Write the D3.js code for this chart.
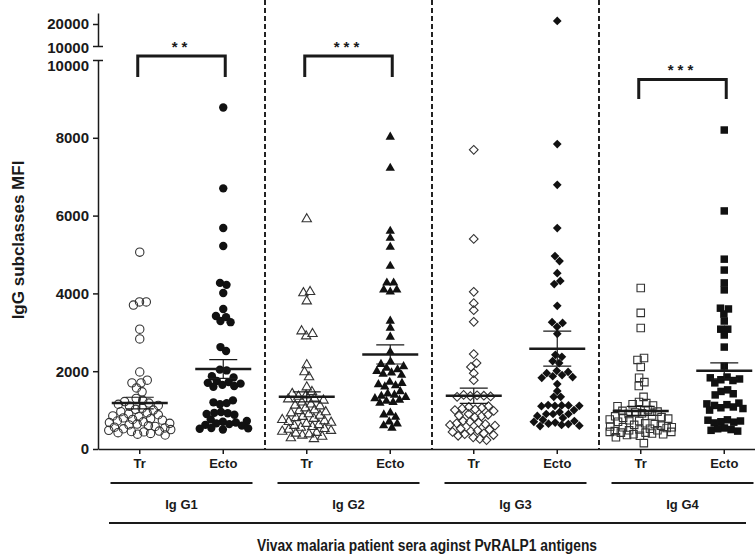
<!DOCTYPE html>
<html>
<head>
<meta charset="utf-8">
<script src="https://cdn.jsdelivr.net/npm/d3@7"></script>
<style>
  body { margin: 0; background: #fff; }
  text { font-family: "Liberation Sans", Arial, sans-serif; fill: #1a1a1a; font-weight: bold; }
</style>
</head>
<body>
<svg width="755" height="556"></svg>
<script>
var groups = ["Ig G1", "Ig G2", "Ig G3", "Ig G4"];
var conditions = ["Tr", "Ecto"];

// MFI values, one array per column
var g1Tr = [5060, 3780, 3700, 3780, 3080, 2830, 1980, 1770, 1700, 1700, 1570, 1470, 1300, 1250, 1220, 1180, 1150, 1120, 1100, 1050, 1020, 1000, 960, 930, 900, 880, 850, 830, 800, 780, 760, 740, 720, 700, 680, 660, 640, 620, 600, 580, 560, 540, 520, 500, 480, 460, 450, 440, 420, 400, 380, 360];
var g1Ecto = [8780, 6700, 5680, 5220, 4270, 4220, 4010, 3600, 3420, 3390, 3290, 3260, 2620, 2520, 2040, 2020, 1870, 1840, 1750, 1720, 1700, 1680, 1650, 1620, 1600, 1250, 1200, 1180, 1150, 950, 930, 920, 900, 880, 760, 720, 700, 680, 660, 640, 620, 600, 540, 530, 520, 500];
var g2Tr = [5910, 4040, 4010, 3800, 3030, 2960, 2900, 2160, 1980, 1850, 1590, 1470, 1420, 1380, 1350, 1300, 1280, 1250, 1200, 1150, 1120, 1100, 1050, 1000, 980, 950, 920, 900, 860, 830, 800, 780, 750, 720, 700, 680, 650, 620, 600, 570, 550, 520, 500, 470, 450, 420, 400, 380, 350, 320, 280, 260];
var g2Ecto = [8020, 7220, 5600, 5420, 5190, 4700, 4270, 4270, 4090, 4090, 4040, 3290, 3110, 2880, 2490, 2240, 2180, 2120, 2080, 2040, 2000, 1960, 1930, 1900, 1720, 1690, 1660, 1630, 1600, 1480, 1420, 1390, 1360, 1330, 1300, 1260, 1230, 1200, 1180, 930, 880, 820, 700, 650, 600, 540];
var g3Tr = [7690, 5400, 4040, 3750, 3570, 3270, 2440, 2210, 2110, 1950, 1770, 1390, 1380, 1370, 1360, 1350, 1340, 1100, 1080, 1060, 1040, 1020, 1000, 980, 900, 880, 860, 840, 820, 720, 700, 680, 660, 640, 620, 600, 520, 500, 480, 460, 440, 400, 380, 360, 340, 300, 260, 230];
var g3Ecto = [21400, 7840, 6790, 5680, 4960, 4830, 4520, 4320, 4240, 3680, 3260, 3240, 3140, 2960, 2420, 2370, 2260, 2210, 2010, 1980, 1950, 1900, 1870, 1850, 1830, 1670, 1490, 1340, 1340, 1130, 1120, 1120, 1110, 1110, 1100, 1000, 950, 900, 900, 900, 850, 800, 750, 720, 700, 680, 650, 640, 620, 600, 590];
var g4Tr = [4140, 3500, 3110, 2340, 2290, 2110, 1830, 1720, 1620, 1340, 1210, 1180, 1150, 1120, 1100, 1000, 980, 960, 940, 920, 900, 860, 840, 820, 800, 780, 760, 740, 720, 700, 660, 640, 620, 600, 580, 560, 560, 540, 520, 500, 480, 480, 460, 440, 440, 420, 420, 400, 380, 380, 360, 340, 300, 150];
var g4Ecto = [8200, 6120, 4880, 4600, 4270, 4090, 3620, 3600, 3470, 3290, 3080, 3080, 2930, 2620, 2130, 1850, 1830, 1800, 1780, 1760, 1700, 1520, 1480, 1420, 1390, 1180, 1160, 1140, 1120, 1080, 1060, 1040, 1000, 750, 740, 720, 700, 690, 670, 540, 520, 500, 480, 460];

// mean and SEM per column (Tr, Ecto for G1..G4)
var means = [1180, 2056, 1340, 2430, 1370, 2580, 980, 2010];
var sems = [150, 240, 130, 245, 195, 450, 115, 205];

// significance per group: label, bracket top and bottom (MFI)
var sigLabels = ["**", "***", "", "***"];
var sigTop = [10100, 10100, null, 9500];
var sigBottom = [9560, 9560, null, 9000];

var yTicksLow = [0, 2000, 4000, 6000, 8000, 10000];
var yTicksHigh = [10000, 20000];

var columnValues = [g1Tr, g1Ecto, g2Tr, g2Ecto, g3Tr, g3Ecto, g4Tr, g4Ecto];
var shapes = [d3.symbolCircle, d3.symbolTriangle, d3.symbolSquare, d3.symbolSquare];
var shapeSizes = [55, 38, 38, 56];

var svg = d3.select('svg');
var ink = '#1a1a1a';

var keys = [];
groups.forEach(function(g) {
	conditions.forEach(function(c) { keys.push(g + '|' + c); });
});

var x = d3.scaleBand().domain(keys).range([98, 766]);
var yLow = d3.scaleLinear().domain([0, 10000]).range([449, 60]);
var yHigh = d3.scaleLinear().domain([10000, 25000]).range([46, 13]);

function yVal(v) {
	return v > 10000 ? yHigh(v) : yLow(v);
}
function cx(i) {
	return x(keys[i]) + x.bandwidth() / 2;
}

// dashed separators between subclasses
svg.append('g').selectAll('line')
	.data([2, 4, 6])
	.enter()
	.append('line')
	.attr('x1', function(d) { return x(keys[d]); })
	.attr('x2', function(d) { return x(keys[d]); })
	.attr('y1', 0)
	.attr('y2', 449)
	.attr('stroke', '#222')
	.attr('stroke-width', 2)
	.attr('stroke-dasharray', '5,3');

// y axes (broken)
var axLow = svg.append('g')
	.attr('transform', 'translate(98,0)')
	.call(d3.axisLeft(yLow).tickValues(yTicksLow).tickFormat(d3.format('d')).tickSize(5).tickSizeOuter(0));
var axHigh = svg.append('g')
	.attr('transform', 'translate(98,0)')
	.call(d3.axisLeft(yHigh).tickValues(yTicksHigh).tickFormat(d3.format('d')).tickSize(5).tickSizeOuter(0));

[axLow, axHigh].forEach(function(ax, ai) {
	ax.select('.domain').attr('stroke', ink).attr('stroke-width', 1.5);
	ax.selectAll('.tick line').attr('stroke', ink).attr('stroke-width', 1.5);
	ax.selectAll('.tick text')
		.attr('fill', ink)
		.style('font-size', '15px')
		.style('font-weight', 'bold')
		.attr('x', -9);
	// break marks at 10000 cross the axis
	ax.selectAll('.tick')
		.filter(function(d) { return d === 10000; })
		.each(function() {
			d3.select(this).select('line').attr('x1', 5).attr('x2', -5);
			d3.select(this).select('text').attr('dy', ai === 0 ? '0.72em' : '0.45em');
		});
});

// x axis
var axX = svg.append('g')
	.attr('transform', 'translate(0,449)')
	.call(d3.axisBottom(x).tickSize(5).tickSizeOuter(0)
		.tickFormat(function(d) { return d.split('|')[1]; }));
axX.select('.domain').attr('stroke', ink).attr('stroke-width', 1.5);
axX.selectAll('.tick line').attr('stroke', ink).attr('stroke-width', 1.5);
axX.selectAll('.tick text')
	.attr('fill', ink)
	.attr('y', 10)
	.style('font-size', '13px')
	.style('font-weight', 'bold');

// points, laid out with a small force beeswarm kept inside the column
columnValues.forEach(function(values, ci) {
	var center = cx(ci);
	var gi = Math.floor(ci / 2);
	var filled = ci % 2 === 1;
	var nodes = values.map(function(v, i) {
		return { value: v, fy: yVal(v), x: center + (i % 2 ? 1 : -1) * (i % 9) };
	});
	var sim = d3.forceSimulation(nodes)
		.force('x', d3.forceX(center).strength(0.12))
		.force('collide', d3.forceCollide(3.4).iterations(2))
		.stop();
	for (var k = 0; k < 300; k++) {
		sim.tick();
		nodes.forEach(function(d) {
			d.x = Math.max(center - 31, Math.min(center + 31, d.x));
		});
	}

	var sym = d3.symbol().type(shapes[gi]).size(shapeSizes[gi]);
	svg.append('g').selectAll('path')
		.data(nodes)
		.enter()
		.append('path')
		.attr('d', sym)
		.attr('transform', function(d) {
			return 'translate(' + d.x + ',' + d.fy + ')' + (gi === 2 ? ' rotate(45)' : '');
		})
		.attr('fill', filled ? '#111' : 'none')
		.attr('stroke', filled ? 'none' : '#333')
		.attr('stroke-width', 1.1);
});

// mean and SEM
var stats = svg.append('g').selectAll('g')
	.data(means)
	.enter()
	.append('g');
stats.append('line')
	.attr('x1', function(d, i) { return cx(i) - 28; })
	.attr('x2', function(d, i) { return cx(i) + 28; })
	.attr('y1', function(d) { return yLow(d); })
	.attr('y2', function(d) { return yLow(d); })
	.attr('stroke', ink)
	.attr('stroke-width', 2.5);
stats.append('path')
	.attr('d', function(d, i) {
		var c = cx(i), t = yLow(d + sems[i]), b = yLow(d - sems[i]);
		return 'M' + (c - 14) + ',' + t + 'H' + (c + 14) + 'M' + c + ',' + t + 'V' + b +
			'M' + (c - 14) + ',' + b + 'H' + (c + 14);
	})
	.attr('fill', 'none')
	.attr('stroke', ink)
	.attr('stroke-width', 1.2);

// significance brackets
groups.forEach(function(g, gi) {
	if (!sigLabels[gi]) return;
	var x1 = cx(gi * 2) - 2, x2 = cx(gi * 2 + 1) + 2;
	var t = yLow(sigTop[gi]), b = yLow(sigBottom[gi]);
	svg.append('path')
		.attr('d', 'M' + x1 + ',' + b + 'V' + t + 'H' + x2 + 'V' + b)
		.attr('fill', 'none')
		.attr('stroke', ink)
		.attr('stroke-width', 3);
	svg.append('text')
		.attr('x', (x1 + x2) / 2)
		.attr('y', t - 4)
		.attr('text-anchor', 'middle')
		.style('font-size', '15px')
		.style('letter-spacing', '4px')
		.text(sigLabels[gi]);
});

// group underlines and labels
groups.forEach(function(g, gi) {
	var mid = (cx(gi * 2) + cx(gi * 2 + 1)) / 2;
	svg.append('line')
		.attr('x1', mid - 71).attr('x2', mid + 71)
		.attr('y1', 483).attr('y2', 483)
		.attr('stroke', ink).attr('stroke-width', 2);
	svg.append('text')
		.attr('x', mid)
		.attr('y', 509)
		.attr('text-anchor', 'middle')
		.style('font-size', '13px')
		.text(g);
});

svg.append('line')
	.attr('x1', 109).attr('x2', 746)
	.attr('y1', 523).attr('y2', 523)
	.attr('stroke', ink).attr('stroke-width', 2);

svg.append('text')
	.attr('x', 427)
	.attr('y', 551)
	.attr('text-anchor', 'middle')
	.attr('textLength', 340)
	.attr('lengthAdjust', 'spacingAndGlyphs')
	.style('font-size', '16px')
	.text('Vivax malaria patient sera aginst PvRALP1 antigens');

svg.append('text')
	.attr('transform', 'translate(24,240) rotate(-90)')
	.attr('text-anchor', 'middle')
	.style('font-size', '17px')
	.text('IgG subclasses MFI');
</script>
</body>
</html>
